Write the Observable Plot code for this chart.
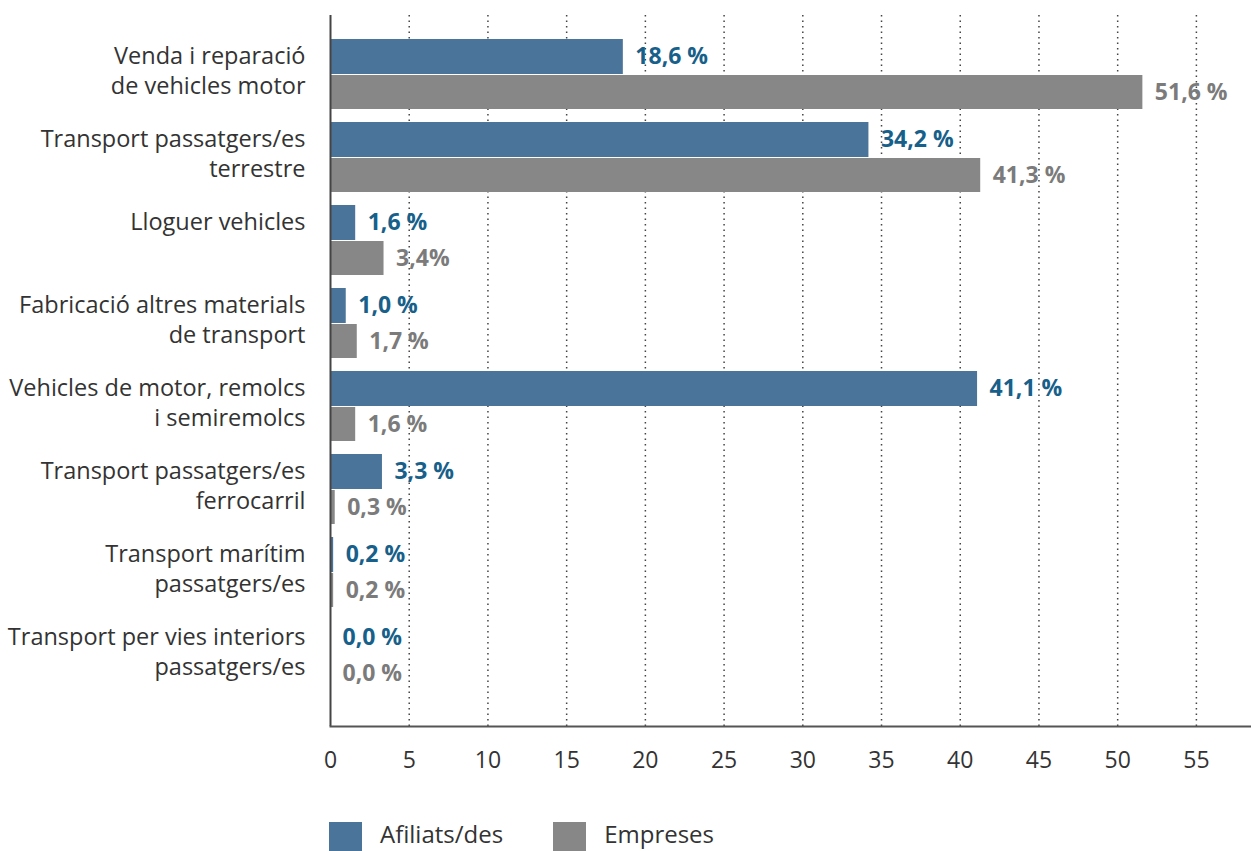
<!DOCTYPE html>
<html>
<head>
<meta charset="utf-8">
<script src="https://cdn.jsdelivr.net/npm/d3@7"></script>
<script src="https://cdn.jsdelivr.net/npm/@observablehq/plot@0.6"></script>
<style>
  html, body { margin: 0; padding: 0; background: #fff; overflow: hidden; }
  #chart { width: 1251px; }
  #chart svg { display: block; }
  .legend { display: flex; align-items: flex-start; padding-left: 329px; padding-top: 27px;
    font-family: "Open Sans", sans-serif; font-size: 24px; color: #333; }
  .legend .item { display: flex; align-items: flex-start; margin-right: 50px; }
  .legend .sw { width: 33px; height: 34px; margin-top: 5px; margin-right: 18px; }
  .legend .txt { line-height: 33px; }
</style>
</head>
<body>
<div id="chart"></div>
<script>
const categories = [
  "Venda i reparació\nde vehicles motor",
  "Transport passatgers/es\nterrestre",
  "Lloguer vehicles\n",
  "Fabricació altres materials\nde transport",
  "Vehicles de motor, remolcs\ni semiremolcs",
  "Transport passatgers/es\nferrocarril",
  "Transport marítim\npassatgers/es",
  "Transport per vies interiors\npassatgers/es"
];
const afiliats = [18.6, 34.2, 1.6, 1.0, 41.1, 3.3, 0.2, 0.0];
const empreses = [51.6, 41.3, 3.4, 1.7, 1.6, 0.3, 0.2, 0.0];
const afiliatsLabels = ["18,6 %", "34,2 %", "1,6 %", "1,0 %", "41,1 %", "3,3 %", "0,2 %", "0,0 %"];
const empresesLabels = ["51,6 %", "41,3 %", "3,4%", "1,7 %", "1,6 %", "0,3 %", "0,2 %", "0,0 %"];
const xTicks = [0, 5, 10, 15, 20, 25, 30, 35, 40, 45, 50, 55];
const seriesNames = ["Afiliats/des", "Empreses"];
const barColors = ["#4a7499", "#878787"];
const labelColors = ["#17608a", "#7b7b7b"];

const afRows = categories.map((c, i) => ({category: c, value: afiliats[i], label: afiliatsLabels[i]}));
const emRows = categories.map((c, i) => ({category: c, value: empreses[i], label: empresesLabels[i]}));

const font = "Open Sans, sans-serif";

const chart = Plot.plot({
  width: 1251,
  height: 790,
  marginLeft: 330,
  marginRight: 0,
  marginTop: 15,
  marginBottom: 64,
  style: {fontFamily: font, fontSize: "23px", color: "#333", background: "#fff"},
  x: {domain: [0, 58.5]},
  y: {domain: categories, paddingInner: 0.1617, paddingOuter: 0.338, align: 0.4},
  marks: [
    Plot.gridX(xTicks.filter(d => d > 0), {stroke: "#444", strokeOpacity: 1, strokeWidth: 1.5, strokeDasharray: "1.5,4"}),
    Plot.barX(afRows, {x: "value", y: "category", fill: barColors[0], insetBottom: 35}),
    Plot.barX(emRows, {x: "value", y: "category", fill: barColors[1], insetTop: 36}),
    Plot.text(afRows, {x: "value", y: "category", text: "label", dx: 12, dy: -18, textAnchor: "start",
      fill: labelColors[0], fontWeight: "bold", fontSize: 23}),
    Plot.text(emRows, {x: "value", y: "category", text: "label", dx: 12, dy: 18, textAnchor: "start",
      fill: labelColors[1], fontWeight: "bold", fontSize: 23}),
    Plot.ruleX([0], {stroke: "#444", strokeWidth: 2}),
    Plot.frame({anchor: "bottom", stroke: "#555", strokeWidth: 2}),
    Plot.axisX({ticks: xTicks, tickSize: 0, tickPadding: 25, label: null, fontSize: 23, fill: "#333"}),
    Plot.axisY({tickSize: 0, tickPadding: 25, label: null, fontSize: 23.5, fill: "#333", lineHeight: 1.28, lineAnchor: "top", dy: -32})
  ]
});
document.getElementById("chart").appendChild(chart);

const legend = document.createElement("div");
legend.className = "legend";
seriesNames.forEach((name, i) => {
  const item = document.createElement("div");
  item.className = "item";
  const sw = document.createElement("div");
  sw.className = "sw";
  sw.style.background = barColors[i];
  const t = document.createElement("span");
  t.className = "txt";
  t.textContent = name;
  item.appendChild(sw);
  item.appendChild(t);
  legend.appendChild(item);
});
document.body.appendChild(legend);
</script>
</body>
</html>
